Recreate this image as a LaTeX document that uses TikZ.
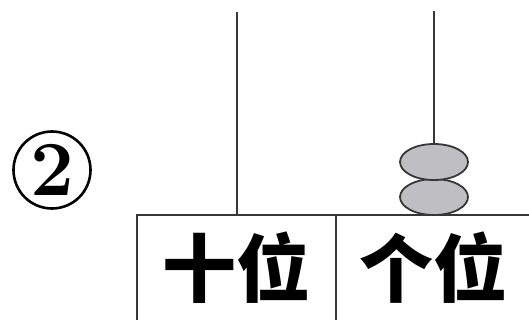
\documentclass[tikz,border=0pt]{standalone}
\usepackage{fontspec}
\newfontfamily\cjk{Noto Sans CJK SC}
\usetikzlibrary{shapes.geometric}
\definecolor{beadgray}{RGB}{190,190,195}
\definecolor{linegray}{RGB}{55,55,55}
\tikzset{
  rod/.style={draw=linegray, line width=1.8pt},
  bead/.style={ellipse, draw=linegray, fill=beadgray, line width=1.8pt,
    minimum width=68pt, minimum height=36pt, inner sep=0pt},
  place/.style={font=\cjk\bfseries\fontsize{74}{74}\selectfont, inner sep=0pt}
}
\begin{document}
\begin{tikzpicture}[x=1pt,y=-1pt]
\useasboundingbox (0,0) rectangle (529,320);
\clip (0,0) rectangle (529,320);

% circled number
\node[circle, draw, line width=2.6pt, minimum size=77pt, inner sep=0pt,
  font=\bfseries\fontsize{78}{78}\selectfont] (num) at (52,170) {2};

% rods
\coordinate (ttop) at (237,12);
\coordinate (otop) at (434,11);
\coordinate (tfoot) at (237,215);
\coordinate (ofoot) at (434,215);
\draw[rod] (ttop) -- (tfoot);
\draw[rod] (otop) -- (ofoot);

% beads
\node[bead] (b1) at (434,197) {};
\node[bead] (b2) at (434,162) {};

% place value table
\draw[draw=linegray, line width=1.8pt] (137,330) -- (137,215) -- (540,215);
\draw[draw=linegray, line width=1.8pt] (336,215) -- (336,330);
\node[place] (tens) at (236,268) {十位};
\node[place] (ones) at (433,268) {个位};

\end{tikzpicture}
\end{document}
